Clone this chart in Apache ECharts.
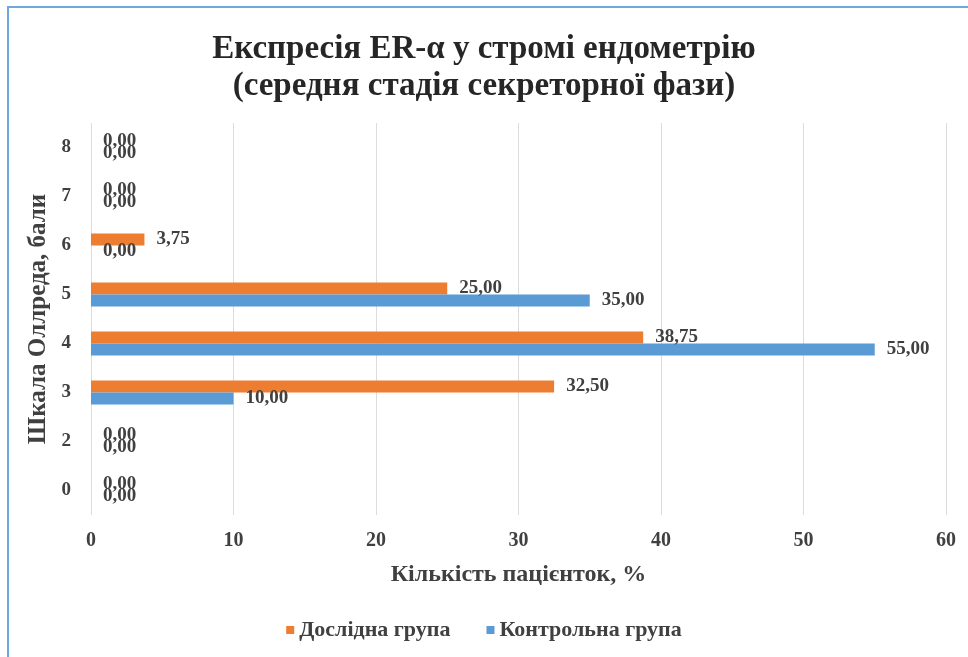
<!DOCTYPE html>
<html>
<head>
<meta charset="utf-8">
<script src="https://cdn.jsdelivr.net/npm/echarts@6/dist/echarts.min.js"></script>
<style>
  html, body { margin: 0; padding: 0; background: #fff; }
  #chart { width: 968px; height: 657px; }
</style>
</head>
<body>
<div id="chart"></div>
<script>
// Allred score categories (score 1 is absent in the study data)
const scoreCategories = ['0', '2', '3', '4', '5', '6', '7', '8'];
// Share of patients, %
const studyGroup = [0, 0, 32.5, 38.75, 25, 3.75, 0, 0];
const controlGroup = [0, 0, 10, 55, 35, 0, 0, 0];
const xTicks = { min: 0, max: 60, interval: 10 };

const serif = 'Liberation Serif';
const fmt = v => v.value.toFixed(2).replace('.', ',');

const barLabel = {
  show: true, position: 'right', distance: 12, formatter: fmt,
  fontFamily: serif, fontWeight: 'bold', fontSize: 19, color: '#404040'
};

const chart = echarts.init(document.getElementById('chart'));
chart.setOption({
  backgroundColor: '#ffffff',
  animation: false,
  title: {
    text: 'Експресія ER-α у стромі ендометрію\n(середня стадія секреторної фази)',
    left: 'center',
    top: 26,
    textStyle: {
      fontFamily: serif, fontWeight: 'bold', fontSize: 33,
      lineHeight: 37, color: '#262626'
    }
  },
  graphic: [{
    type: 'rect',
    shape: { x: 8, y: 7, width: 980, height: 680 },
    style: { fill: 'none', stroke: '#6fa8dc', lineWidth: 2 },
    silent: true
  }],
  legend: {
    data: ['Дослідна група', 'Контрольна група'],
    bottom: 11,
    left: 'center',
    itemWidth: 8, itemHeight: 8, itemGap: 36,
    icon: 'rect',
    textStyle: { fontFamily: serif, fontWeight: 'bold', fontSize: 22, color: '#404040' }
  },
  grid: { left: 91, right: 22, top: 123, bottom: 142 },
  xAxis: {
    type: 'value',
    min: xTicks.min, max: xTicks.max, interval: xTicks.interval,
    name: 'Кількість пацієнток, %',
    nameLocation: 'middle',
    nameGap: 48,
    nameTextStyle: { fontFamily: serif, fontWeight: 'bold', fontSize: 24, color: '#404040' },
    axisLine: { show: false },
    axisTick: { show: false },
    axisLabel: { margin: 16, fontFamily: serif, fontWeight: 'bold', fontSize: 20, color: '#404040' },
    splitLine: { lineStyle: { color: '#dcdcdc', width: 1 } }
  },
  yAxis: {
    type: 'category',
    data: scoreCategories,
    name: 'Шкала Оллреда, бали',
    nameLocation: 'middle',
    nameRotate: 90,
    nameGap: 37,
    nameTextStyle: { fontFamily: serif, fontWeight: 'bold', fontSize: 25, color: '#404040' },
    axisLine: { show: false },
    axisTick: { show: false },
    axisLabel: { margin: 20, fontFamily: serif, fontWeight: 'bold', fontSize: 19, color: '#404040' }
  },
  series: [
    {
      name: 'Дослідна група',
      type: 'bar',
      data: studyGroup,
      barWidth: 12,
      barGap: '0%',
      itemStyle: { color: '#ed7d31' },
      label: barLabel
    },
    {
      name: 'Контрольна група',
      type: 'bar',
      data: controlGroup,
      barWidth: 12,
      barGap: '0%',
      itemStyle: { color: '#5b9bd5' },
      label: barLabel
    }
  ]
});
</script>
</body>
</html>
